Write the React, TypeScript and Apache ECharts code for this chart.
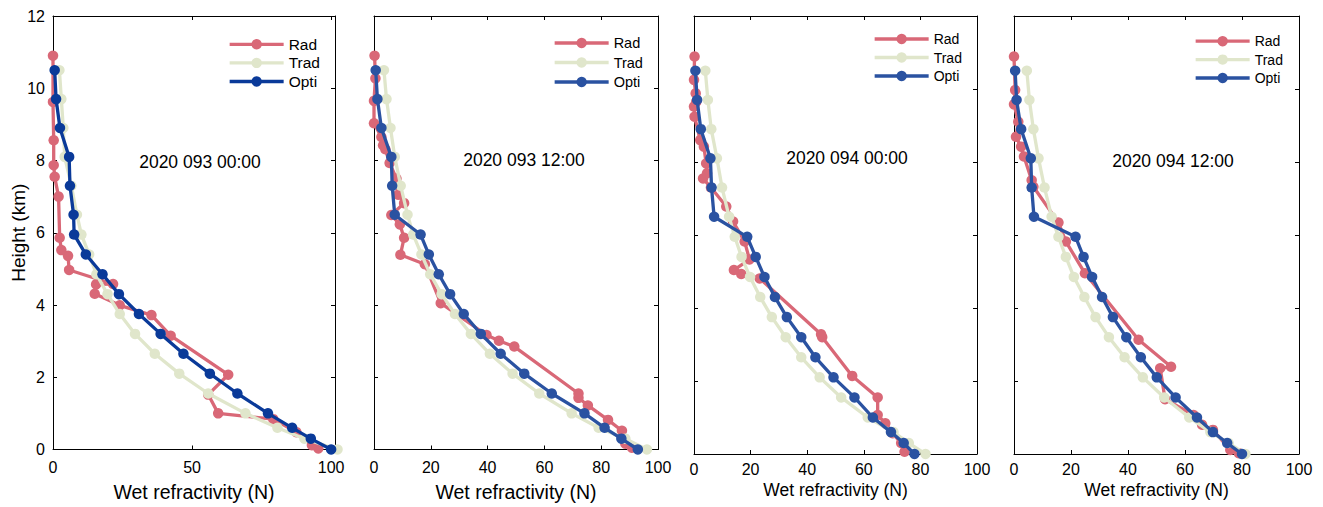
import React, { useEffect, useRef } from "react";
import * as echarts from "echarts";

// ---- data ----
const LEVELS = [0, 0.3, 0.6, 1.0, 1.55, 2.1, 2.65, 3.2, 3.75, 4.3, 4.85, 5.4, 5.95, 6.5, 7.3, 8.1, 8.9, 9.7, 10.5];

const PANEL_TITLES = ["2020 093 00:00", "2020 093 12:00", "2020 094 00:00", "2020 094 12:00"];
const SERIES_NAMES = ["Rad", "Trad", "Opti"];
const X_TICKS_1 = [0, 50, 100];
const X_TICKS_OTHER = [0, 20, 40, 60, 80, 100];
const Y_TICKS = [0, 2, 4, 6, 8, 10, 12];

const OPTI_1 = [100, 92.7, 86, 77.3, 66.3, 56.4, 46.9, 38.7, 30.9, 23.7, 17.8, 11.8, 7.6, 7.4, 6.1, 5.8, 2.5, 1.1, 0.6];
const TRAD_1 = [102.3, 90.4, 80.7, 69.2, 55.8, 45.4, 36.6, 29.5, 24.0, 19.6, 15.6, 13.0, 10.2, 8.6, 6.6, 4.2, 3.7, 3.0, 2.3];
const RAD_1_H = [0.03, 0.12, 0.48, 0.84, 1.0, 1.52, 2.07, 3.15, 3.72, 3.99, 4.31, 4.57, 4.58, 4.97, 5.36, 5.52, 5.86, 7.0, 7.55, 7.87, 8.56, 9.62, 10.9];
const RAD_1_N = [95.4, 93.1, 87.5, 79.2, 59.4, 55.8, 63.0, 42.3, 35.4, 24.0, 15.0, 15.5, 21.6, 5.8, 5.4, 3.0, 2.4, 2.0, 0.6, 0.25, 0.25, 0, 0];

const OPTI_2 = [92.9, 87.1, 81.2, 74.1, 62.6, 52.9, 44.6, 37.6, 31.6, 26.8, 22.8, 19.3, 16.4, 7.3, 6.4, 6.1, 2.6, 1.2, 0.6];
const TRAD_2 = [96.1, 88.5, 79.1, 69.6, 58.2, 48.8, 40.8, 34.1, 28.5, 23.8, 19.8, 16.7, 13.8, 11.8, 9.4, 7.3, 5.8, 4.4, 3.5];
const RAD_2_H = [0.05, 0.16, 0.52, 0.82, 1.22, 1.43, 1.55, 2.85, 3.01, 3.17, 4.05, 5.13, 5.39, 5.86, 6.23, 6.49, 6.82, 7.05, 7.5, 7.93, 8.31, 8.42, 8.65, 9.03, 9.65, 10.27, 10.9];
const RAD_2_N = [90.8, 88.5, 87.3, 82.4, 75.3, 72, 72, 49.4, 44, 39.6, 23.5, 17.9, 9.3, 10.6, 9.1, 6.1, 10.6, 8.5, 7.9, 5.5, 4.0, 3.2, 2.6, 0, 0, 0.5, 0.2];

const OPTI_3 = [77.9, 74.1, 69.6, 63.2, 56.7, 49.3, 42.9, 37.9, 32.8, 28.6, 24.9, 21.8, 18.8, 7.1, 6.2, 5.8, 2.4, 1.1, 0.5];
const TRAD_3 = [81.8, 75.9, 70.5, 61.4, 52.0, 44.4, 37.9, 32.4, 27.5, 23.4, 19.8, 16.8, 14.4, 12.4, 9.9, 8.1, 6.1, 4.9, 4.0];
const RAD_3_H = [0.06, 0.3, 0.57, 0.84, 1.07, 1.55, 2.14, 3.2, 3.28, 4.81, 4.93, 5.04, 5.33, 5.82, 6.37, 6.78, 7.3, 7.55, 7.69, 7.96, 8.42, 8.6, 9.24, 9.52, 9.65, 9.88, 10.25, 10.89];
const RAD_3_N = [74.4, 73.2, 70.2, 67.6, 64.9, 64.9, 55.9, 45.3, 44.9, 23.2, 16.7, 14.1, 19.6, 17.9, 13.8, 11.4, 6.0, 3.2, 4.6, 4.3, 3.5, 2.2, 0.2, 0, 0.8, 0.6, 0, 0.2];

const OPTI_4 = [80.0, 74.8, 69.8, 64.2, 56.7, 50.1, 44.5, 39.4, 34.7, 30.9, 27.4, 24.4, 21.6, 7.0, 6.2, 5.9, 2.5, 0.9, 0.4];
const TRAD_4 = [81.2, 75.3, 68.9, 61.5, 52.7, 45.2, 38.8, 33.3, 28.6, 24.7, 21.0, 18.2, 15.6, 13.2, 10.7, 8.6, 6.8, 5.4, 4.5];
const RAD_4_H = [0.02, 0.11, 0.66, 0.8, 1.07, 1.5, 2.35, 2.39, 3.13, 4.95, 5.82, 6.34, 7.32, 7.5, 8.15, 8.42, 8.69, 9.1, 9.58, 9.97, 10.89];
const RAD_4_N = [78.9, 75.9, 69.8, 66, 63, 53.0, 51.3, 55.1, 43.7, 24.9, 18.2, 15.6, 6.8, 6.2, 3.5, 2.5, 0.7, 1.5, 0, 0.4, 0];

const PANELS = [
  { title: PANEL_TITLES[0], rad: [RAD_1_N, RAD_1_H], trad: TRAD_1, opti: OPTI_1, ticks: X_TICKS_1 },
  { title: PANEL_TITLES[1], rad: [RAD_2_N, RAD_2_H], trad: TRAD_2, opti: OPTI_2, ticks: X_TICKS_OTHER },
  { title: PANEL_TITLES[2], rad: [RAD_3_N, RAD_3_H], trad: TRAD_3, opti: OPTI_3, ticks: X_TICKS_OTHER },
  { title: PANEL_TITLES[3], rad: [RAD_4_N, RAD_4_H], trad: TRAD_4, opti: OPTI_4, ticks: X_TICKS_OTHER },
];

// ---- layout / style ----
const FONT = "'Liberation Sans', Arial, Helvetica, sans-serif";
const GRIDS = [
  { left: 53, top: 16, width: 282, height: 438, xMax: 101.4 },
  { left: 374, top: 16, width: 284, height: 438, xMax: 100 },
  { left: 694, top: 16, width: 283, height: 438, xMax: 100 },
  { left: 1014, top: 16, width: 285, height: 438, xMax: 100 },
];
const STYLE = [
  { titleSize: 19.5, nameGap: 32.5, labelMargin: 10, legendSize: 15.5, legendLeft: 228, legendTop: 36.3, legendGap: 2.6, textX: 200, textY: 162, opti: "#0a3a99" },
  { titleSize: 19.5, nameGap: 32.5, labelMargin: 10, legendSize: 14.5, legendLeft: 553, legendTop: 35.5, legendGap: 4.5, textX: 524, textY: 160, opti: "#2a52a1" },
  { titleSize: 17.5, nameGap: 26.5, labelMargin: 7, legendSize: 14, legendLeft: 873, legendTop: 32, legendGap: 4.5, textX: 847, textY: 158, opti: "#2a52a1" },
  { titleSize: 17.5, nameGap: 26.5, labelMargin: 7, legendSize: 14, legendLeft: 1194, legendTop: 34.2, legendGap: 4.4, textX: 1173, textY: 161, opti: "#2a52a1" },
];
const RAD_COLOR = "#d96877";
const TRAD_COLOR = "#e0e6cb";
const LINE_W = 3.3;

function buildOption() {
  const grid: any[] = [];
  const xAxis: any[] = [];
  const yAxis: any[] = [];
  const series: any[] = [];
  const legend: any[] = [];
  const graphic: any[] = [];
  const lineAxis = { show: true, onZero: false, lineStyle: { color: "#000", width: 1 } };
  const tick = { show: true, inside: true, length: 4, lineStyle: { color: "#000", width: 1 } };

  PANELS.forEach((p, i) => {
    const g = GRIDS[i];
    const s = STYLE[i];
    grid.push({ left: g.left, top: g.top, width: g.width, height: g.height, containLabel: false });
    const interval = p.ticks[1] - p.ticks[0];
    const tickSet = p.ticks;
    const baseX = {
      gridIndex: i,
      type: "value",
      min: p.ticks[0],
      max: g.xMax,
      interval,
      splitLine: { show: false },
      axisLine: lineAxis,
      axisTick: tick,
    };
    xAxis[i] = {
      ...baseX,
      position: "bottom",
      axisLabel: {
        show: true,
        margin: s.labelMargin,
        fontSize: 16,
        fontFamily: FONT,
        color: "#000",
        formatter: (v: number) => (tickSet.includes(v) ? String(v) : ""),
      },
      name: "Wet refractivity (N)",
      nameLocation: "middle",
      nameGap: s.nameGap,
      nameMoveOverlap: false,
      nameTextStyle: { fontSize: s.titleSize, fontFamily: FONT, color: "#000" },
    };
    xAxis[i + 4] = { ...baseX, position: "top", axisLabel: { show: false } };

    const baseY = {
      gridIndex: i,
      type: "value",
      min: Y_TICKS[0],
      max: Y_TICKS[Y_TICKS.length - 1],
      interval: Y_TICKS[1] - Y_TICKS[0],
      splitLine: { show: false },
      axisLine: lineAxis,
      axisTick: tick,
    };
    yAxis[i] = {
      ...baseY,
      position: "left",
      axisLabel: { show: i === 0, margin: 8, fontSize: 16, fontFamily: FONT, color: "#000" },
      ...(i === 0
        ? {
            name: "Height (km)",
            nameLocation: "middle",
            nameGap: 25,
            nameMoveOverlap: false,
            nameTextStyle: { fontSize: 19, fontFamily: FONT, color: "#000" },
          }
        : {}),
    };
    yAxis[i + 4] = { ...baseY, position: "right", axisLabel: { show: false } };

    const radData = p.rad[0].map((n, k) => [n, p.rad[1][k]]);
    const tradData = p.trad.map((n, k) => [n, LEVELS[k]]);
    const optiData = p.opti.map((n, k) => [n, LEVELS[k]]);
    const colors = [RAD_COLOR, TRAD_COLOR, s.opti];
    [radData, tradData, optiData].forEach((d, k) => {
      series.push({
        name: `${SERIES_NAMES[k]}#${i}`,
        type: "line",
        xAxisIndex: i,
        yAxisIndex: i,
        data: d,
        symbol: "circle",
        symbolSize: 10.5,
        showSymbol: true,
        clip: false,
        color: colors[k],
        itemStyle: { color: colors[k] },
        lineStyle: { color: colors[k], width: LINE_W },
        z: 2 + k,
      });
    });

    legend.push({
      data: SERIES_NAMES.map((n) => `${n}#${i}`),
      orient: "vertical",
      left: s.legendLeft,
      top: s.legendTop,
      itemWidth: 54,
      itemHeight: 13,
      itemGap: s.legendGap,
      padding: 0,
      selectedMode: false,
      lineStyle: { width: LINE_W },
      formatter: (name: string) => name.split("#")[0],
      textStyle: { fontSize: s.legendSize, fontFamily: FONT, color: "#000" },
    });

    graphic.push({
      type: "text",
      x: s.textX,
      y: s.textY,
      style: {
        text: p.title,
        fontSize: 17.5,
        fontFamily: FONT,
        fill: "#000",
        align: "center",
        verticalAlign: "middle",
      },
    });
  });

  return {
    animation: false,
    backgroundColor: "#fff",
    grid,
    xAxis,
    yAxis,
    series,
    legend,
    graphic,
  };
}

export default function App() {
  const ref = useRef<HTMLDivElement>(null);
  useEffect(() => {
    if (!ref.current) return;
    const chart = echarts.init(ref.current, undefined, { renderer: "svg" });
    chart.setOption(buildOption() as any);
    return () => chart.dispose();
  }, []);
  return (
    <div
      ref={ref}
      style={{ position: "fixed", left: 0, top: 0, width: 1323, height: 507, background: "#fff" }}
    />
  );
}
